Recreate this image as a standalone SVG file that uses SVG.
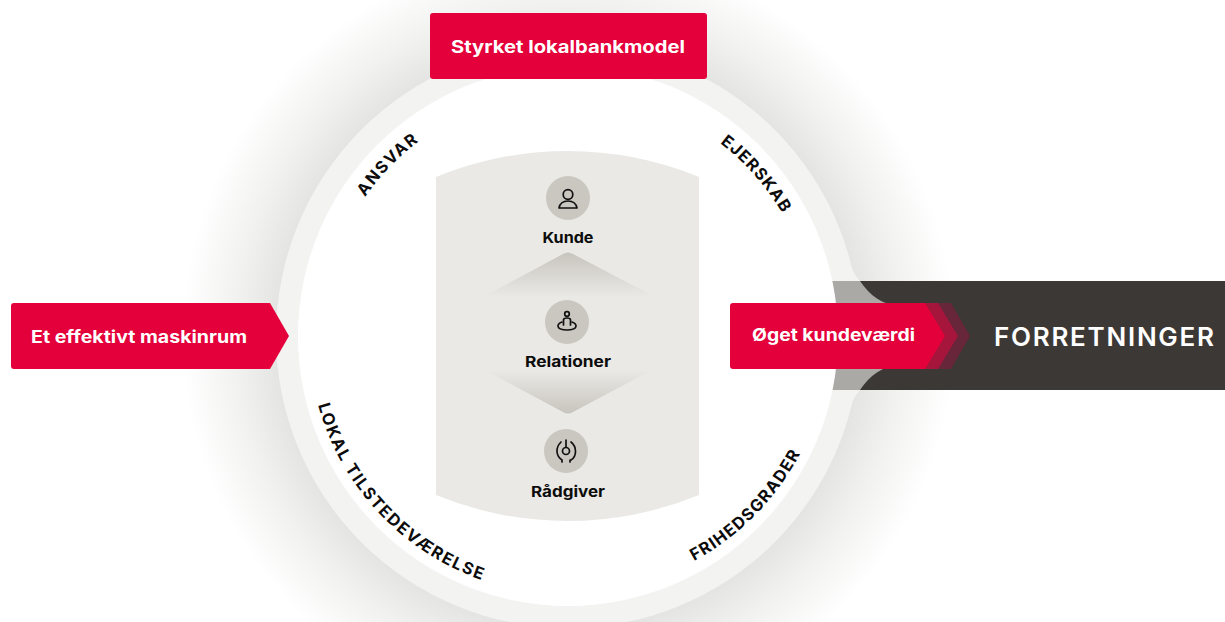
<svg xmlns="http://www.w3.org/2000/svg" width="1225" height="622" viewBox="0 0 1225 622">
<style>
text{font-family:"Inter","Liberation Sans",sans-serif;font-weight:700}
.w{fill:#fff;font-size:17px;font-weight:700}
.k{fill:#0c0c0c;font-size:15px;text-anchor:middle}
.c{fill:#0c0c0c;font-size:16.500px;font-weight:700}
.red{fill:#e4003a}
.ic{fill:none;stroke:#111;stroke-width:1.7;stroke-linecap:round;stroke-linejoin:round}
.disc{fill:#cac6c0}
</style>
<defs>
<radialGradient id="sh" gradientUnits="userSpaceOnUse" cx="568" cy="336" r="386">
<stop offset="0.756" stop-color="#e4e4e2"/><stop offset="0.86" stop-color="#f1f1f0"/><stop offset="1" stop-color="#fff"/>
</radialGradient>
<linearGradient id="up" x1="0" y1="0" x2="0" y2="1"><stop offset="0" stop-color="#c8c4be"/><stop offset="1" stop-color="#eae9e5"/></linearGradient>
<linearGradient id="dn" x1="0" y1="1" x2="0" y2="0"><stop offset="0" stop-color="#c8c4be"/><stop offset="1" stop-color="#eae9e5"/></linearGradient>
<path id="p1" d="M365 197A245 245 0 0 1 425 137"/>
<path id="p2" d="M720 143A246 246 0 0 1 800 250"/>
<path id="p3" d="M694 561A259 259 0 0 0 815 420"/>
<path id="p4" d="M318 405A258 258 0 0 0 510 588"/>
</defs>
<rect width="1225" height="622" fill="#fff"/>
<g id="backdrop">
<circle cx="568" cy="336" r="386" fill="url(#sh)"/>
<circle cx="568" cy="336" r="292" fill="#f3f3f2"/>
<path d="M847 252Q851 272 860 281H830V390H860Q851 399 847 420L800 336Z" fill="#f3f3f2"/>
<rect x="825" y="281" width="60" height="109" fill="#aaa9a6"/>
<circle cx="568" cy="336" r="270" fill="#fff"/>
<path d="M436 177A345.5 345.5 0 0 1 699 177V495A345.5 345.5 0 0 1 436 495Z" fill="#eae9e5"/>
<path d="M483 297L563 254Q568 251 573 254L655 297Z" fill="url(#up)"/>
<path d="M485 370H652L573 412Q568 415 563 412Z" fill="url(#dn)"/>
</g>
<g id="connectors"></g>
<g id="forretninger">
<path d="M860 281H1225V390H860C872 372 890 360 915 368V303C890 311 872 299 860 281Z" fill="#3c3835"/>
<text x="994" y="346" textLength="220" lengthAdjust="spacing" style="font-size:26px;fill:#fff;font-weight:600">FORRETNINGER</text>
</g>
<g id="styrket">
<rect x="430" y="13" width="277" height="66" rx="3" class="red"/>
<text x="451" y="53" class="w" textLength="234" lengthAdjust="spacingAndGlyphs">Styrket lokalbankmodel</text>
</g>
<g id="maskinrum">
<path d="M14 303H270L289 336L270 369H14Q11 369 11 366V306Q11 303 14 303Z" class="red"/>
<text x="31" y="343" class="w" textLength="216" lengthAdjust="spacingAndGlyphs">Et effektivt maskinrum</text>
</g>
<g id="kundevaerdi">
<path d="M900 303H951L970 336L951 369H900Z" fill="#68263a"/>
<path d="M900 303H938L958 336L938 369H900Z" fill="#a5153c"/>
<path d="M733 303H925L945 336L925 369H733Q730 369 730 366V306Q730 303 733 303Z" class="red"/>
<text x="752" y="341" class="w" textLength="163" lengthAdjust="spacingAndGlyphs">Øget kundeværdi</text>
</g>
<g id="kunde">
<circle cx="568" cy="198" r="22" class="disc"/>
<circle cx="568" cy="194.500" r="4.800" class="ic"/>
<path d="M559 208C560 203 564 201 568 201C572 201 576 203 577 208Z" class="ic"/>
<text x="568" y="243" class="k" textLength="51" lengthAdjust="spacingAndGlyphs">Kunde</text>
</g>
<g id="relationer">
<circle cx="567" cy="322" r="22" class="disc"/>
<circle cx="567" cy="314" r="2.300" class="ic"/>
<path d="M563.500 325V320Q563.500 318 567 318Q570.500 318 570.500 320V325" class="ic"/>
<path d="M562 322C556 324 556 330 567 330C578 330 578 324 572 322" class="ic"/>
<text x="568" y="367" class="k" textLength="86" lengthAdjust="spacingAndGlyphs">Relationer</text>
</g>
<g id="raadgiver">
<circle cx="566" cy="451" r="22" class="disc"/>
<circle cx="566" cy="451" r="3.500" class="ic"/>
<path d="M566 447V440M561 442C555 448 556 456 562 460V462M571 442C577 447 577 456 571 460H570V462" class="ic"/>
<text x="568" y="497" class="k" textLength="74" lengthAdjust="spacingAndGlyphs">Rådgiver</text>
</g>
<g id="ring-labels">
<text class="c" letter-spacing="1.500"><textPath href="#p1">ANSVAR</textPath></text>
<text class="c" letter-spacing="1.100"><textPath href="#p2">EJERSKAB</textPath></text>
<text class="c" letter-spacing="1.200"><textPath href="#p3">FRIHEDSGRADER</textPath></text>
<text class="c" letter-spacing="1.600"><textPath href="#p4">LOKAL TILSTEDEVÆRELSE</textPath></text>
</g>
</svg>
